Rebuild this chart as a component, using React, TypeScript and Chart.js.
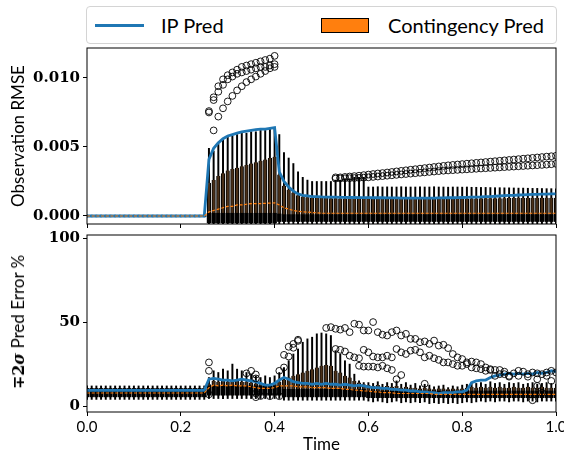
import React, { useEffect, useRef } from 'react';
import { Chart, registerables } from 'chart.js';
Chart.register(...registerables);

// ---------- time axis (box positions) ----------
const times = [
  0.00, 0.01, 0.02, 0.03, 0.04, 0.05, 0.06, 0.07, 0.08, 0.09,
  0.10, 0.11, 0.12, 0.13, 0.14, 0.15, 0.16, 0.17, 0.18, 0.19,
  0.20, 0.21, 0.22, 0.23, 0.24, 0.25, 0.26, 0.27, 0.28, 0.29,
  0.30, 0.31, 0.32, 0.33, 0.34, 0.35, 0.36, 0.37, 0.38, 0.39,
  0.40, 0.41, 0.42, 0.43, 0.44, 0.45, 0.46, 0.47, 0.48, 0.49,
  0.50, 0.51, 0.52, 0.53, 0.54, 0.55, 0.56, 0.57, 0.58, 0.59,
  0.60, 0.61, 0.62, 0.63, 0.64, 0.65, 0.66, 0.67, 0.68, 0.69,
  0.70, 0.71, 0.72, 0.73, 0.74, 0.75, 0.76, 0.77, 0.78, 0.79,
  0.80, 0.81, 0.82, 0.83, 0.84, 0.85, 0.86, 0.87, 0.88, 0.89,
  0.90, 0.91, 0.92, 0.93, 0.94, 0.95, 0.96, 0.97, 0.98, 0.99,
  1.00,
];
const xTicks = [0, 0.2, 0.4, 0.6, 0.8, 1.0];

// ---------- top panel: Observation RMSE ----------
const rmseIp = [
  0, 0, 0, 0, 0, 0, 0, 0, 0, 0,
  0, 0, 0, 0, 0, 0, 0, 0, 0, 0,
  0, 0, 0, 0, 0, 0, 0.0041, 0.0049, 0.0053, 0.0056,
  0.0058, 0.0059, 0.0060, 0.0061, 0.00615, 0.0062, 0.00625, 0.0063, 0.0063, 0.00635,
  0.0064, 0.0032, 0.0025, 0.0021, 0.0018, 0.0016, 0.0015, 0.00145, 0.0014, 0.0014,
  0.00138, 0.00137, 0.00136, 0.00136, 0.00135, 0.00135, 0.00134, 0.00134, 0.00133, 0.00133,
  0.00133, 0.00132, 0.00132, 0.00132, 0.00131, 0.00131, 0.00131, 0.0013, 0.0013, 0.0013,
  0.0013, 0.0013, 0.0013, 0.0013, 0.0013, 0.00131, 0.00131, 0.00132, 0.00132, 0.00133,
  0.00134, 0.00135, 0.00136, 0.00137, 0.00138, 0.0014, 0.00141, 0.00143, 0.00145, 0.00147,
  0.00149, 0.0015, 0.00152, 0.00153, 0.00155, 0.00156, 0.00157, 0.00158, 0.00159, 0.0016,
  0.0016,
];
const rmseLo = [
  -0.00006, -0.00006, -0.00006, -0.00006, -0.00006, -0.00006, -0.00006, -0.00006, -0.00006, -0.00006,
  -0.00006, -0.00006, -0.00006, -0.00006, -0.00006, -0.00006, -0.00006, -0.00006, -0.00006, -0.00006,
  -0.00006, -0.00006, -0.00006, -0.00006, -0.00006, -0.00006, -0.0007, -0.0007, -0.0007, -0.0007,
  -0.0007, -0.0007, -0.0007, -0.0007, -0.0007, -0.0007, -0.0007, -0.0007, -0.0007, -0.0007,
  -0.0007, -0.0007, -0.0007, -0.0007, -0.0007, -0.0007, -0.0007, -0.0007, -0.0007, -0.0007,
  -0.0007, -0.0007, -0.0007, -0.0007, -0.0007, -0.0007, -0.0007, -0.0007, -0.0007, -0.0007,
  -0.0007, -0.0007, -0.0007, -0.0007, -0.0007, -0.0007, -0.0007, -0.0007, -0.0007, -0.0007,
  -0.0007, -0.0007, -0.0007, -0.0007, -0.0007, -0.0007, -0.0007, -0.0007, -0.0007, -0.0007,
  -0.0007, -0.0007, -0.0007, -0.0007, -0.0007, -0.0007, -0.0007, -0.0007, -0.0007, -0.0007,
  -0.0007, -0.0007, -0.0007, -0.0007, -0.0007, -0.0007, -0.0007, -0.0007, -0.0007, -0.0007,
  -0.0007,
];
const rmseQ1 = [
  -0.00003, -0.00003, -0.00003, -0.00003, -0.00003, -0.00003, -0.00003, -0.00003, -0.00003, -0.00003,
  -0.00003, -0.00003, -0.00003, -0.00003, -0.00003, -0.00003, -0.00003, -0.00003, -0.00003, -0.00003,
  -0.00003, -0.00003, -0.00003, -0.00003, -0.00003, -0.00003, -0.0005, -0.0005, -0.0005, -0.0005,
  -0.0005, -0.0005, -0.0005, -0.0005, -0.0005, -0.0005, -0.0005, -0.0005, -0.0005, -0.0005,
  -0.0005, -0.0004, -0.0004, -0.0004, -0.0004, -0.0004, -0.0004, -0.0004, -0.0004, -0.0004,
  -0.0004, -0.0004, -0.0004, -0.0004, -0.0004, -0.0004, -0.0004, -0.0004, -0.0004, -0.0004,
  -0.0004, -0.0004, -0.0004, -0.0004, -0.0004, -0.0004, -0.0004, -0.0004, -0.0004, -0.0004,
  -0.0004, -0.0004, -0.0004, -0.0004, -0.0004, -0.0004, -0.0004, -0.0004, -0.0004, -0.0004,
  -0.0004, -0.0004, -0.0004, -0.0004, -0.0004, -0.0004, -0.0004, -0.0004, -0.0004, -0.0004,
  -0.0004, -0.0004, -0.0004, -0.0004, -0.0004, -0.0004, -0.0004, -0.0004, -0.0004, -0.0004,
  -0.0004,
];
const rmseDark = [
  0.00003, 0.00003, 0.00003, 0.00003, 0.00003, 0.00003, 0.00003, 0.00003, 0.00003, 0.00003,
  0.00003, 0.00003, 0.00003, 0.00003, 0.00003, 0.00003, 0.00003, 0.00003, 0.00003, 0.00003,
  0.00003, 0.00003, 0.00003, 0.00003, 0.00003, 0.00003, 0.0002, 0.0002, 0.0002, 0.0002,
  0.0002, 0.0002, 0.0002, 0.0002, 0.0002, 0.0002, 0.0002, 0.0002, 0.0002, 0.0002,
  0.0002, 0.00015, 0.0001, 0.0001, 0.0001, 0.0001, 0.0001, 0.0001, 0.0001, 0.0001,
  0.0001, 0.0001, 0.0001, 0.0001, 0.0001, 0.0001, 0.0001, 0.0001, 0.0001, 0.0001,
  0.0001, 0.0001, 0.0001, 0.0001, 0.0001, 0.0001, 0.0001, 0.0001, 0.0001, 0.0001,
  0.0001, 0.0001, 0.0001, 0.0001, 0.0001, 0.0001, 0.0001, 0.0001, 0.0001, 0.0001,
  0.0001, 0.0001, 0.0001, 0.0001, 0.0001, 0.0001, 0.0001, 0.0001, 0.0001, 0.0001,
  0.0001, 0.0001, 0.0001, 0.0001, 0.0001, 0.0001, 0.0001, 0.0001, 0.0001, 0.0001,
  0.0001,
];
const rmseQ3 = [
  0.00003, 0.00003, 0.00003, 0.00003, 0.00003, 0.00003, 0.00003, 0.00003, 0.00003, 0.00003,
  0.00003, 0.00003, 0.00003, 0.00003, 0.00003, 0.00003, 0.00003, 0.00003, 0.00003, 0.00003,
  0.00003, 0.00003, 0.00003, 0.00003, 0.00003, 0.00003, 0.0024, 0.0026, 0.0029, 0.0031,
  0.0033, 0.0034, 0.0035, 0.0036, 0.0037, 0.0038, 0.0039, 0.0040, 0.0041, 0.0042,
  0.0043, 0.0030, 0.0022, 0.0019, 0.0017, 0.0015, 0.0014, 0.00135, 0.0013, 0.0013,
  0.0013, 0.0013, 0.00128, 0.00128, 0.00127, 0.00127, 0.00126, 0.00126, 0.00126, 0.00125,
  0.00125, 0.00125, 0.00124, 0.00124, 0.00124, 0.00124, 0.00124, 0.00124, 0.00124, 0.00124,
  0.00124, 0.00124, 0.00124, 0.00124, 0.00125, 0.00125, 0.00125, 0.00125, 0.00126, 0.00126,
  0.00126, 0.00127, 0.00127, 0.00127, 0.00128, 0.00128, 0.00128, 0.00129, 0.00129, 0.00129,
  0.0013, 0.0013, 0.0013, 0.0013, 0.00131, 0.00131, 0.00131, 0.00132, 0.00132, 0.00132,
  0.00132,
];
const rmseHi = [
  0.00006, 0.00006, 0.00006, 0.00006, 0.00006, 0.00006, 0.00006, 0.00006, 0.00006, 0.00006,
  0.00006, 0.00006, 0.00006, 0.00006, 0.00006, 0.00006, 0.00006, 0.00006, 0.00006, 0.00006,
  0.00006, 0.00006, 0.00006, 0.00006, 0.00006, 0.00006, 0.0049, 0.0047, 0.0052, 0.0055,
  0.0057, 0.0058, 0.0059, 0.0060, 0.0060, 0.0061, 0.0061, 0.0062, 0.0062, 0.0063,
  0.0063, 0.0059, 0.0046, 0.0042, 0.0038, 0.0032, 0.0028, 0.0026, 0.0025, 0.0025,
  0.0025, 0.0025, 0.0025, 0.0026, 0.0026, 0.0027, 0.0027, 0.0028, 0.0028, 0.0028,
  0.0021, 0.0021, 0.00212, 0.0021, 0.00211, 0.0021, 0.0021, 0.00212, 0.0021, 0.0021,
  0.0021, 0.00211, 0.0021, 0.0021, 0.00212, 0.0021, 0.0021, 0.00209, 0.0021, 0.0021,
  0.00209, 0.0021, 0.00208, 0.00208, 0.00207, 0.00207, 0.00206, 0.00205, 0.00205, 0.00204,
  0.00204, 0.00203, 0.00202, 0.00202, 0.00201, 0.002, 0.002, 0.00199, 0.00198, 0.00198,
  0.00197,
];
const rmseMed = [
  0, 0, 0, 0, 0, 0, 0, 0, 0, 0,
  0, 0, 0, 0, 0, 0, 0, 0, 0, 0,
  0, 0, 0, 0, 0, 0, 0.0003, 0.0004, 0.0005, 0.0006,
  0.0007, 0.0007, 0.0008, 0.0008, 0.00085, 0.0009, 0.0009, 0.0009, 0.00092, 0.00093,
  0.00095, 0.0008, 0.0006, 0.0005, 0.0004, 0.00035, 0.0003, 0.00028, 0.00025, 0.00023,
  0.0002, 0.0002, 0.0002, 0.0002, 0.0002, 0.0002, 0.0002, 0.0002, 0.0002, 0.0002,
  0.0002, 0.0002, 0.0002, 0.0002, 0.0002, 0.0002, 0.0002, 0.0002, 0.0002, 0.0002,
  0.0002, 0.0002, 0.0002, 0.0002, 0.0002, 0.0002, 0.0002, 0.0002, 0.0002, 0.0002,
  0.0002, 0.0002, 0.0002, 0.0002, 0.0002, 0.0002, 0.0002, 0.0002, 0.0002, 0.0002,
  0.0002, 0.0002, 0.0002, 0.0002, 0.0002, 0.0002, 0.0002, 0.0002, 0.0002, 0.0002,
  0.0002,
];
// fliers: [time, value, value, ...]
const rmseFliers = [
  [0.26, 0.0076, 0.0075],
  [0.27, 0.0086, 0.0084, 0.0062],
  [0.28, 0.0094, 0.0090, 0.0072],
  [0.29, 0.0099, 0.0095, 0.0078],
  [0.30, 0.0102, 0.0099, 0.0083],
  [0.31, 0.0104, 0.0101, 0.0087],
  [0.32, 0.0106, 0.0103, 0.0091],
  [0.33, 0.0108, 0.0104, 0.0094],
  [0.34, 0.0109, 0.0105, 0.0097],
  [0.35, 0.0110, 0.0106, 0.0099],
  [0.36, 0.0111, 0.0107, 0.0101],
  [0.37, 0.0112, 0.0108, 0.0103],
  [0.38, 0.0113, 0.0108, 0.0105],
  [0.39, 0.0114, 0.0109, 0.0107],
  [0.40, 0.0116, 0.0110, 0.0108],
  [0.53, 0.0028, 0.00271], [0.54, 0.0028, 0.00272], [0.55, 0.00283, 0.00273],
  [0.56, 0.00286, 0.00274], [0.57, 0.00289, 0.00275], [0.58, 0.00292, 0.00276],
  [0.59, 0.00296, 0.00278], [0.60, 0.003, 0.0028], [0.61, 0.00304, 0.00283],
  [0.62, 0.00308, 0.00286], [0.63, 0.00311, 0.00289], [0.64, 0.00315, 0.00292],
  [0.65, 0.00319, 0.00295], [0.66, 0.00323, 0.00298], [0.67, 0.00327, 0.00301],
  [0.68, 0.00331, 0.00304], [0.69, 0.00335, 0.00307], [0.70, 0.00339, 0.0031],
  [0.71, 0.00343, 0.00313], [0.72, 0.00347, 0.00316], [0.73, 0.00351, 0.00319],
  [0.74, 0.00355, 0.00322], [0.75, 0.00359, 0.00325], [0.76, 0.00363, 0.00328],
  [0.77, 0.00367, 0.0033], [0.78, 0.0037, 0.00332], [0.79, 0.00373, 0.00334],
  [0.80, 0.00376, 0.00336], [0.81, 0.00379, 0.00338], [0.82, 0.00382, 0.0034],
  [0.83, 0.00385, 0.00342], [0.84, 0.00388, 0.00344], [0.85, 0.00391, 0.00346],
  [0.86, 0.00394, 0.00348], [0.87, 0.00397, 0.0035], [0.88, 0.004, 0.00352],
  [0.89, 0.00403, 0.00354], [0.90, 0.00406, 0.00356], [0.91, 0.00409, 0.00358],
  [0.92, 0.00412, 0.0036], [0.93, 0.00415, 0.00362], [0.94, 0.00418, 0.00364],
  [0.95, 0.00421, 0.00366], [0.96, 0.00424, 0.00368], [0.97, 0.00427, 0.0037],
  [0.98, 0.0043, 0.00372], [0.99, 0.00433, 0.00375], [1.00, 0.00436, 0.00378],
];
const rmseTicks = [0, 0.005, 0.010];

// ---------- bottom panel: ∓2σ Pred Error % ----------
const errIp = [
  9.4, 9.4, 9.4, 9.4, 9.4, 9.4, 9.4, 9.4, 9.4, 9.4,
  9.4, 9.4, 9.4, 9.4, 9.4, 9.4, 9.4, 9.4, 9.4, 9.4,
  9.4, 9.4, 9.4, 9.4, 9.4, 9.4, 16, 16.5, 16, 15.5,
  15.5, 15, 15.5, 16, 15.5, 15, 14.5, 13.5, 12.5, 12.5,
  13.5, 15.5, 17, 16, 14.5, 14, 13.5, 13.5, 13, 13.5,
  13, 13.5, 13, 13, 12.5, 13, 12.5, 12, 12.5, 12,
  11.5, 11, 11, 10.5, 10.5, 10, 10, 9.5, 9.5, 9,
  9, 8.5, 8.5, 8, 8, 7.5, 8, 8, 8, 8.5,
  8.5, 9.5, 14, 15, 15.5, 15.5, 17, 18, 18.5, 19,
  19.5, 19, 19.5, 19, 19.5, 19, 20, 19.5, 20, 21,
  20.5,
];
const errLo = [
  4, 4, 4, 4, 4, 4, 4, 4, 4, 4,
  4, 4, 4, 4, 4, 4, 4, 4, 4, 4,
  4, 4, 4, 4, 4, 4, 4.5, 4.5, 4.5, 4.5,
  4.5, 4.5, 4.5, 4.5, 4.5, 4.5, 4.5, 4.5, 4.5, 4.5,
  4.5, 4.5, 3.5, 3.5, 3.5, 3.5, 3.5, 3.5, 3.5, 3.5,
  3.5, 3.5, 3.5, 3.5, 3.5, 3.5, 3.5, 3.5, 3.5, 3.5,
  3, 2.5, 3, 2.5, 2, 2.5, 3, 2, 2.5, 2,
  2.5, 2, 2.5, 1.5, 2, 1.5, 2, 1.5, 2, 1.5,
  2, 2.5, 2, 2.5, 3, 2.5, 3, 2.5, 3, 3,
  2.5, 3, 3, 2.5, 3, 3, 2.5, 3, 3, 3,
  3,
];
const errQ1 = [
  5.5, 5.5, 5.5, 5.5, 5.5, 5.5, 5.5, 5.5, 5.5, 5.5,
  5.5, 5.5, 5.5, 5.5, 5.5, 5.5, 5.5, 5.5, 5.5, 5.5,
  5.5, 5.5, 5.5, 5.5, 5.5, 5.5, 6.5, 6.5, 6.5, 6.5,
  6.5, 6.5, 6.5, 6.5, 6.5, 6.5, 6.5, 6.5, 6.5, 6.5,
  6.5, 6.5, 5.5, 5.5, 5.5, 5.5, 5.5, 5.5, 5.5, 5.5,
  5.5, 5.5, 5.5, 5.5, 5.5, 5.5, 5.5, 5.5, 5.5, 5.5,
  5, 5, 5, 5, 5, 5, 5, 5, 5, 5,
  5, 5, 5, 5, 5, 5, 5, 5, 5, 5,
  5, 5, 5, 5, 5, 5, 5, 5, 5, 5,
  5, 5, 5, 5, 5, 5, 5, 5, 5, 5,
  5,
];
const errDark = [
  10.5, 10.5, 10.5, 10.5, 10.5, 10.5, 10.5, 10.5, 10.5, 10.5,
  10.5, 10.5, 10.5, 10.5, 10.5, 10.5, 10.5, 10.5, 10.5, 10.5,
  10.5, 10.5, 10.5, 10.5, 10.5, 10.5, 12, 12, 12, 12,
  12, 12, 12, 12, 12, 12, 12, 12, 12, 12,
  12, 12, 10, 10, 10, 10, 10, 10, 10, 10,
  10, 10, 10, 10, 10, 10, 10, 10, 10, 10,
  9, 9, 9, 9, 9, 9, 9, 9, 9, 9,
  9, 9, 9, 9, 9, 9, 9, 9, 9, 9,
  9, 9, 9, 9, 9, 9, 9, 9, 9, 9,
  9, 9, 9, 9, 9, 9, 9, 9, 9, 9,
  9,
];
const errQ3 = [
  10.5, 10.5, 10.5, 10.5, 10.5, 10.5, 10.5, 10.5, 10.5, 10.5,
  10.5, 10.5, 10.5, 10.5, 10.5, 10.5, 10.5, 10.5, 10.5, 10.5,
  10.5, 10.5, 10.5, 10.5, 10.5, 10.5, 13, 15, 14.5, 15,
  14.5, 15.5, 15, 14.5, 14.5, 14, 13.5, 13, 13, 13,
  13.5, 14.5, 15.5, 17, 18, 19, 20, 21, 22, 23,
  24, 24.5, 24, 21, 20, 18, 17, 15, 14, 13,
  12.5, 12, 12.5, 11.5, 12, 11.5, 12, 11, 11.5, 11,
  11, 10.5, 11, 10.5, 10, 10.5, 10.5, 10, 10.5, 10,
  10.5, 11, 11.5, 11, 11.5, 11, 11.5, 11, 11.5, 11,
  11, 11.5, 11, 11, 11.5, 11, 11, 11.5, 11, 11,
  11,
];
const errHi = [
  12, 12, 12, 12, 12, 12, 12, 12, 12, 12,
  12, 12, 12, 12, 12, 12, 12, 12, 12, 12,
  12, 12, 12, 12, 12, 12, 17, 21, 20, 22,
  21, 25, 22, 21, 20, 19, 18, 17, 18, 17,
  18, 20, 23, 27, 31, 34, 38, 40, 41, 43,
  43.5, 43, 42, 33, 31, 27, 25, 19, 15, 14,
  14, 13.5, 14.5, 13, 14, 13.5, 15, 13, 14, 12.5,
  13.5, 12, 13, 12.5, 11.5, 12, 12.5, 11, 12, 11.5,
  12.5, 13, 14, 13.5, 14, 13, 14.5, 13.5, 14, 13,
  14, 13.5, 14, 13, 13.5, 14, 13, 13.5, 14, 13.5,
  13,
];
const errMed = [
  7.8, 7.8, 7.8, 7.8, 7.8, 7.8, 7.8, 7.8, 7.8, 7.8,
  7.8, 7.8, 7.8, 7.8, 7.8, 7.8, 7.8, 7.8, 7.8, 7.8,
  7.8, 7.8, 7.8, 7.8, 7.8, 7.8, 11, 12.5, 12, 12.5,
  12, 12.5, 12, 12, 12, 11.5, 11, 10.5, 10.5, 10.5,
  11, 12, 12, 12, 12, 11.5, 11.5, 11.5, 11, 11,
  11, 11, 10.5, 10.5, 10.5, 10, 10, 9.5, 9.5, 9,
  9, 8.5, 8.5, 8, 8, 8, 7.5, 7.5, 7.5, 7.5,
  7.5, 7.5, 7.5, 7.5, 7, 7, 7, 7, 7, 7,
  7, 7, 7, 7, 7, 7, 7, 7, 7, 7,
  7, 7, 7, 7, 7, 7, 7, 7, 7, 7,
  7,
];
const errFliers = [
  [0.26, 26, 21, 7],
  [0.34, 19.5],
  [0.35, 21],
  [0.36, 18.8, 16.5, 7.6, 5.3],
  [0.37, 6],
  [0.39, 5.9],
  [0.41, 5.9, 21],
  [0.42, 23, 30.5],
  [0.43, 29.5, 35.3],
  [0.44, 34.7, 37],
  [0.45, 38.8, 39.5],
  [0.51, 46.5],
  [0.52, 47],
  [0.53, 46, 34],
  [0.54, 45.5, 33.5],
  [0.55, 46.5, 32.5],
  [0.56, 44, 30],
  [0.57, 49, 29],
  [0.58, 48.5, 28.5, 24],
  [0.59, 45, 33.5, 23.5],
  [0.60, 45, 32, 23.5],
  [0.61, 50, 29.5, 23.5],
  [0.62, 44, 29, 23],
  [0.63, 42.5, 29, 24],
  [0.64, 42, 30, 22.5],
  [0.65, 44, 29, 21.5],
  [0.66, 45, 34, 16],
  [0.67, 42, 32, 18.5],
  [0.68, 43, 31],
  [0.69, 40, 33],
  [0.70, 40, 33.5],
  [0.71, 38, 32],
  [0.72, 38.5, 29, 13.3],
  [0.73, 37, 30],
  [0.74, 39, 28.5],
  [0.75, 36, 27.5],
  [0.76, 36.5, 26],
  [0.77, 34.5, 26],
  [0.78, 31, 25],
  [0.79, 29, 24],
  [0.80, 28, 24],
  [0.81, 26, 25],
  [0.82, 26.5, 23],
  [0.83, 26, 22.5],
  [0.84, 25, 22],
  [0.85, 23, 21],
  [0.86, 22, 21.5],
  [0.87, 21.5, 18],
  [0.88, 21.5, 19],
  [0.89, 20.5, 19],
  [0.90, 18, 17.5],
  [0.91, 19.5],
  [0.92, 21, 18],
  [0.93, 20.5],
  [0.94, 19, 17.5],
  [0.95, 20, 3.5],
  [0.96, 19.5, 16, 12],
  [0.97, 19, 8],
  [0.98, 20, 18],
  [0.99, 21, 15],
  [1.00, 20],
];
const errTicks = [0, 50, 100];

// ---------- helpers ----------
const BLUE = '#1f77b4';
const ORANGE = '#ff7f0e';
const BOX_FILL = '#4a2f17';
const SANS = 'Lato';

const xy = (ys: number[]) => times.map((t, i) => ({ x: t, y: ys[i] }));
const range = (a: number[], b: number[]) => times.map((t, i) => ({ x: t, y: [a[i], b[i]] }));
const fliers = (rows: number[][]) => {
  const pts: { x: number; y: number }[] = [];
  rows.forEach((r) => r.slice(1).forEach((v) => pts.push({ x: r[0], y: v })));
  return pts;
};

function datasets(ip: number[], lo: number[], q1: number[], dark: number[], q3: number[], hi: number[], med: number[], fl: number[][]) {
  return [
    { type: 'bar', data: range(lo, hi), backgroundColor: '#000', barThickness: 1.3, grouped: false, order: 9 },
    { type: 'bar', data: range(q1, q3), backgroundColor: BOX_FILL, borderColor: '#000', borderWidth: { left: 1, right: 1, top: 0, bottom: 0 }, borderSkipped: false, barThickness: 3.6, grouped: false, order: 8 },
    { type: 'bar', data: range(q1, dark), backgroundColor: '#000', barThickness: 3.6, grouped: false, order: 7 },
    { type: 'line', label: 'IP Pred', data: xy(ip), borderColor: BLUE, borderWidth: 2.8, pointRadius: 0, tension: 0, order: 4 },
    { type: 'line', data: xy(med), borderColor: ORANGE, borderWidth: 1.2, borderDash: [3, 1.7], pointRadius: 0, tension: 0, order: 3 },
    { type: 'scatter', data: fliers(fl), pointStyle: 'circle', pointRadius: 3.4, borderColor: '#000', borderWidth: 0.9, backgroundColor: 'rgba(0,0,0,0)', order: 1 },
  ];
}

const framePlugin = {
  id: 'frame',
  afterDraw(chart: any) {
    const { ctx, chartArea } = chart;
    ctx.save();
    ctx.strokeStyle = '#000';
    ctx.lineWidth = 1;
    ctx.strokeRect(chartArea.left, chartArea.top, chartArea.right - chartArea.left, chartArea.bottom - chartArea.top);
    ctx.restore();
  },
};

function makeConfig(o: any) {
  return {
    type: 'bar',
    data: { datasets: o.datasets },
    plugins: [framePlugin],
    options: {
      responsive: false,
      animation: false,
      devicePixelRatio: 1,
      events: [],
      layout: { padding: { top: o.padTop, right: 44, left: 0, bottom: 0 } },
      plugins: { legend: { display: false }, tooltip: { enabled: false } },
      scales: {
        x: {
          type: 'linear',
          min: 0,
          max: 1,
          offset: false,
          afterBuildTicks: (s: any) => { s.ticks = xTicks.map((v) => ({ value: v })); },
          afterFit: (s: any) => { s.height = o.xHeight; },
          ticks: {
            display: o.xLabels,
            autoSkip: false,
            maxRotation: 0,
            padding: 2,
            color: '#000',
            font: { family: SANS, size: 15 },
            callback: (v: any) => Number(v).toFixed(1),
          },
          grid: { display: true, offset: false, drawOnChartArea: false, drawTicks: true, tickLength: 4, color: '#000' },
          border: { display: false },
          title: o.xLabels
            ? { display: true, text: 'Time', color: '#000', font: { family: SANS, size: 17, lineHeight: 1 }, padding: { top: 0, bottom: 0 } }
            : { display: false },
        },
        y: {
          type: 'linear',
          min: o.yMin,
          max: o.yMax,
          afterBuildTicks: (s: any) => { s.ticks = o.yTicks.map((v: number) => ({ value: v })); },
          afterFit: (s: any) => { s.width = 87; },
          ticks: {
            padding: 3,
            color: '#000',
            font: { family: 'DejaVu Serif', weight: 'bold', size: 15 },
            callback: o.yFormat,
          },
          grid: { display: true, drawOnChartArea: false, drawTicks: true, tickLength: 4, color: '#000' },
          border: { display: false },
          title: o.yTitle
            ? { display: true, text: o.yTitle, color: '#000', font: { family: SANS, size: 17 }, padding: { top: 8, bottom: 0 } }
            : { display: false },
        },
      },
    },
  };
}

export default function App() {
  const topRef = useRef<HTMLCanvasElement>(null);
  const botRef = useRef<HTMLCanvasElement>(null);

  useEffect(() => {
    const top = new Chart(topRef.current as HTMLCanvasElement, makeConfig({
      datasets: datasets(rmseIp, rmseLo, rmseQ1, rmseDark, rmseQ3, rmseHi, rmseMed, rmseFliers),
      padTop: 48,
      xHeight: 16,
      xLabels: false,
      yMin: -0.00058,
      yMax: 0.01217,
      yTicks: rmseTicks,
      yFormat: (v: any) => Number(v).toFixed(3),
      yTitle: 'Observation RMSE',
    }) as any);
    const bot = new Chart(botRef.current as HTMLCanvasElement, makeConfig({
      datasets: datasets(errIp, errLo, errQ1, errDark, errQ3, errHi, errMed, errFliers),
      padTop: 10,
      xHeight: 41,
      xLabels: true,
      yMin: -3.5,
      yMax: 101.8,
      yTicks: errTicks,
      yFormat: (v: any) => String(v),
      yTitle: null,
    }) as any);
    return () => { top.destroy(); bot.destroy(); };
  }, []);

  return (
    <div style={{ position: 'fixed', left: 0, top: 0, width: 564, height: 453, overflow: 'hidden', background: '#fff' }}>
      <canvas ref={topRef} width={600} height={240} style={{ position: 'absolute', left: 0, top: 0, width: 600, height: 240 }} />
      <canvas ref={botRef} width={600} height={230} style={{ position: 'absolute', left: 0, top: 223, width: 600, height: 230 }} />
      {/* legend */}
      <div style={{ position: 'absolute', left: 86, top: 6, width: 471, height: 38, boxSizing: 'border-box', border: '1px solid #d4d4d4', borderRadius: 4, background: '#fff' }} />
      <div style={{ position: 'absolute', left: 95, top: 24, width: 49, height: 3, background: BLUE }} />
      <div style={{ position: 'absolute', left: 161, top: 11, height: 28, lineHeight: '28px', fontFamily: SANS, fontSize: 20, color: '#000', whiteSpace: 'nowrap' }}>IP Pred</div>
      <div style={{ position: 'absolute', left: 321, top: 18, width: 48, height: 15, boxSizing: 'border-box', background: ORANGE, border: '1px solid #000' }} />
      <div style={{ position: 'absolute', left: 388, top: 11, height: 28, lineHeight: '28px', fontFamily: SANS, fontSize: 20, color: '#000', whiteSpace: 'nowrap' }}>Contingency Pred</div>
      {/* bottom y-axis title */}
      <div style={{ position: 'absolute', left: 18, top: 322, transform: 'translate(-50%, -50%) rotate(-90deg)', whiteSpace: 'nowrap', fontFamily: SANS, fontSize: 17, color: '#000', lineHeight: 1 }}>
        <span style={{ fontFamily: 'DejaVu Serif', fontWeight: 'bold', fontSize: 16 }}>∓2<i>σ</i></span> Pred Error %
      </div>
    </div>
  );
}
